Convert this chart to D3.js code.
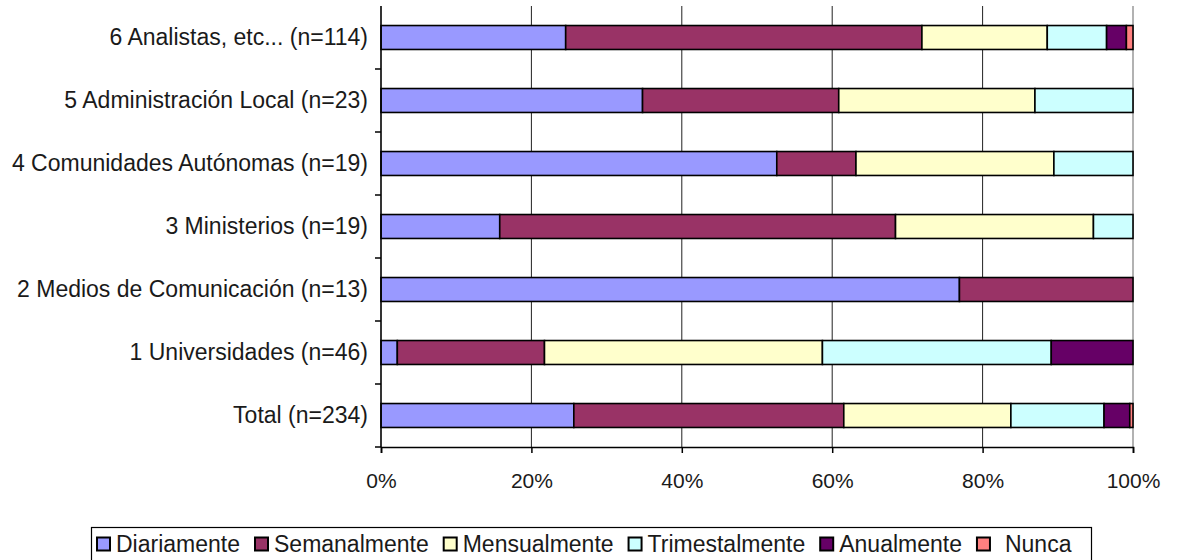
<!DOCTYPE html>
<html>
<head>
<meta charset="utf-8">
<script src="https://cdn.jsdelivr.net/npm/d3@7"></script>
<style>
  html, body { margin: 0; padding: 0; background: #fff; }
  svg { display: block; font-family: "Liberation Sans", Arial, sans-serif; }
</style>
</head>
<body>
<svg id="chart" width="1179" height="560"></svg>
<script>
// Categories, top to bottom
const categories = [
  "6 Analistas, etc... (n=114)",
  "5 Administración Local (n=23)",
  "4 Comunidades Autónomas (n=19)",
  "3 Ministerios (n=19)",
  "2 Medios de Comunicación (n=13)",
  "1 Universidades (n=46)",
  "Total (n=234)"
];

const seriesNames = ["Diariamente", "Semanalmente", "Mensualmente", "Trimestalmente", "Anualmente", "Nunca"];
const seriesColors = ["#9999FF", "#993366", "#FFFFCC", "#CCFFFF", "#660066", "#FF8080"];

// Share of responses (%) per category, one array per frequency
const diariamente    = [24.56, 34.78, 52.63, 15.79, 76.92,  2.17, 25.64];
const semanalmente   = [47.37, 26.09, 10.53, 52.63, 23.08, 19.57, 35.90];
const mensualmente   = [16.67, 26.09, 26.32, 26.32,  0.00, 36.96, 22.22];
const trimestalmente = [ 7.89, 13.04, 10.53,  5.26,  0.00, 30.43, 12.39];
const anualmente     = [ 2.63,  0.00,  0.00,  0.00,  0.00, 10.87,  3.42];
const nunca          = [ 0.88,  0.00,  0.00,  0.00,  0.00,  0.00,  0.43];

const tickValues = [0, 20, 40, 60, 80, 100];

const seriesValues = [diariamente, semanalmente, mensualmente, trimestalmente, anualmente, nunca];

const rows = categories.map((c, i) => {
  const r = { category: c };
  seriesNames.forEach((s, j) => { r[s] = seriesValues[j][i]; });
  return r;
});

const FONT = "'Liberation Sans', Arial, sans-serif";
const svg = d3.select("#chart");
const margin = { left: 381, right: 46, top: 6, bottom: 113 };
const W = 1179, H = 560;
const plotW = W - margin.left - margin.right;   // 752
const plotH = H - margin.top - margin.bottom;   // 441

const x = d3.scaleLinear().domain([0, 100]).range([margin.left, margin.left + plotW]);
const y = d3.scaleBand().domain(categories).range([margin.top, margin.top + plotH]).paddingInner(0.62).paddingOuter(0.31);
const yOuter = d3.scaleBand().domain(categories).range([margin.top, margin.top + plotH]);

// vertical gridlines
svg.append("g").selectAll("line")
  .data(tickValues.filter(v => v > 0 && v < 100))
  .join("line")
  .attr("x1", d => x(d)).attr("x2", d => x(d))
  .attr("y1", margin.top).attr("y2", margin.top + plotH)
  .attr("stroke", "#222").attr("stroke-width", 1);

// right frame edge
svg.append("line")
  .attr("x1", x(100)).attr("x2", x(100))
  .attr("y1", margin.top).attr("y2", margin.top + plotH)
  .attr("stroke", "#999").attr("stroke-width", 1.5);

// stacked bars
const stack = d3.stack().keys(seriesNames);
const layers = stack(rows);

const gBars = svg.append("g");
layers.forEach((layer, j) => {
  gBars.append("g")
    .selectAll("rect")
    .data(layer.filter(d => d[1] - d[0] > 0))
    .join("rect")
    .attr("x", d => x(d[0]))
    .attr("y", d => y(d.data.category))
    .attr("width", d => x(Math.min(d[1], 100)) - x(d[0]))
    .attr("height", y.bandwidth())
    .attr("fill", seriesColors[j])
    .attr("stroke", "#000")
    .attr("stroke-width", 1.6);
});

// category axis
const yAxis = d3.axisLeft(yOuter).tickSize(0).tickPadding(13);
const gy = svg.append("g").attr("transform", `translate(${margin.left},0)`).call(yAxis);
gy.select(".domain").remove();
gy.selectAll("text").attr("font-size", 23).attr("fill", "#1a1a1a")
  .attr("font-family", FONT);
// category separators on the axis
svg.append("g").selectAll("line")
  .data(categories.slice(1))
  .join("line")
  .attr("x1", margin.left - 6).attr("x2", margin.left)
  .attr("y1", d => yOuter(d)).attr("y2", d => yOuter(d))
  .attr("stroke", "#000").attr("stroke-width", 1.5);
svg.append("line")
  .attr("x1", margin.left - 6).attr("x2", margin.left)
  .attr("y1", margin.top + plotH).attr("y2", margin.top + plotH)
  .attr("stroke", "#000").attr("stroke-width", 1.5);
svg.append("line")
  .attr("x1", margin.left).attr("x2", margin.left)
  .attr("y1", margin.top).attr("y2", margin.top + plotH)
  .attr("stroke", "#000").attr("stroke-width", 1.6);

// value axis
const xAxis = d3.axisBottom(x).tickValues(tickValues).tickFormat(d => d + "%").tickSize(6).tickPadding(20);
const gx = svg.append("g").attr("transform", `translate(0,${margin.top + plotH})`).call(xAxis);
gx.select(".domain").attr("stroke", "#000").attr("stroke-width", 1.6);
gx.selectAll(".tick line").attr("stroke", "#000").attr("stroke-width", 1.5);
gx.selectAll("text").attr("font-size", 21).attr("fill", "#1a1a1a")
  .attr("font-family", FONT);

// legend
const legend = svg.append("g");
legend.append("rect")
  .attr("x", 91.5).attr("y", 527.5).attr("width", 1000).attr("height", 40)
  .attr("fill", "#fff").attr("stroke", "#000").attr("stroke-width", 1.2);
let lx = 96;
seriesNames.forEach((s, j) => {
  const g = legend.append("g");
  g.append("rect")
    .attr("x", lx + 1).attr("y", 537.5).attr("width", 13).attr("height", 13)
    .attr("fill", seriesColors[j]).attr("stroke", "#000").attr("stroke-width", 2);
  const txtX = lx + (s === "Nunca" ? 29 : 20);
  const t = g.append("text")
    .attr("x", txtX).attr("y", 551.5)
    .attr("font-size", 23).attr("fill", "#1a1a1a")
    .attr("font-family", FONT)
    .text(s);
  lx = txtX + t.node().getComputedTextLength() + 14;
});
</script>
</body>
</html>
